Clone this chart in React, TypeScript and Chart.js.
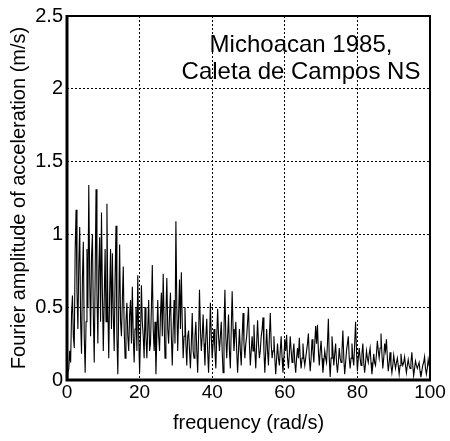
import React, { useEffect, useRef } from 'react';
import { Chart, registerables } from 'chart.js';

Chart.register(...registerables);

// Frequency spacing of the spectrum samples (rad/s)
const FREQ_STEP = 0.25;

// Fourier amplitude of acceleration (m/s), one value per 0.25 rad/s (rows of 5 rad/s)
const amplitude = [
  0.02, 0.05, 0.08, 0.2, 0.12, 0.45, 0.58, 0.3, 0.22, 0.9, 1.17, 0.6, 0.35, 0.8, 1.05, 0.4, 0.18, 0.7, 0.95, 0.3,
  0.05, 0.4, 0.9, 0.5, 1.34, 0.7, 0.3, 0.85, 1.0, 0.45, 0.12, 0.7, 1.31, 0.6, 0.25, 0.75, 0.98, 0.4, 1.15, 0.6,
  0.2, 0.55, 0.9, 0.4, 1.21, 0.5, 0.15, 0.6, 0.9, 0.35, 0.87, 0.45, 0.2, 0.7, 1.06, 0.3, 0.04, 0.5, 0.93, 0.4,
  0.3, 0.55, 0.78, 0.35, 0.15, 0.4, 0.53, 0.3, 0.2, 0.45, 0.55, 0.25, 0.64, 0.3, 0.12, 0.35, 0.5, 0.2, 0.72, 0.3,
  0.05, 0.3, 0.65, 0.4, 0.3, 0.15, 0.5, 0.3, 0.15, 0.35, 0.55, 0.2, 0.25, 0.5, 0.79, 0.35, 0.2, 0.4, 0.04, 0.3,
  0.55, 0.3, 0.2, 0.45, 0.6, 0.3, 0.73, 0.4, 0.15, 0.45, 0.7, 0.35, 0.25, 0.45, 0.6, 0.3, 0.1, 0.35, 0.55, 0.25,
  1.09, 0.5, 0.2, 0.45, 0.69, 0.35, 0.74, 0.4, 0.15, 0.3, 0.5, 0.25, 0.1, 0.3, 0.34, 0.2, 0.08, 0.25, 0.46, 0.2,
  0.15, 0.3, 0.4, 0.2, 0.05, 0.3, 0.62, 0.35, 0.2, 0.3, 0.45, 0.25, 0.1, 0.3, 0.42, 0.2, 0.05, 0.25, 0.53, 0.3,
  0.15, 0.25, 0.35, 0.2, 0.08, 0.3, 0.49, 0.3, 0.2, 0.3, 0.4, 0.2, 0.05, 0.35, 0.62, 0.3, 0.15, 0.3, 0.45, 0.2,
  0.08, 0.35, 0.61, 0.35, 0.2, 0.3, 0.4, 0.2, 0.05, 0.2, 0.35, 0.2, 0.1, 0.3, 0.46, 0.25, 0.15, 0.25, 0.3, 0.4,
  0.5, 0.25, 0.1, 0.2, 0.3, 0.2, 0.38, 0.2, 0.08, 0.25, 0.41, 0.25, 0.15, 0.2, 0.3, 0.35, 0.43, 0.2, 0.05, 0.2,
  0.35, 0.2, 0.1, 0.3, 0.46, 0.25, 0.15, 0.2, 0.3, 0.15, 0.04, 0.15, 0.25, 0.15, 0.1, 0.2, 0.3, 0.15, 0.05, 0.15,
  0.28, 0.2, 0.31, 0.15, 0.08, 0.18, 0.3, 0.2, 0.12, 0.18, 0.25, 0.12, 0.05, 0.15, 0.22, 0.15, 0.29, 0.15, 0.08, 0.15,
  0.25, 0.15, 0.1, 0.15, 0.2, 0.25, 0.32, 0.15, 0.06, 0.15, 0.28, 0.2, 0.12, 0.25, 0.37, 0.25, 0.38, 0.2, 0.1, 0.2,
  0.27, 0.15, 0.05, 0.12, 0.2, 0.15, 0.12, 0.25, 0.42, 0.15, 0.02, 0.15, 0.3, 0.2, 0.1, 0.18, 0.25, 0.12, 0.05, 0.12,
  0.22, 0.15, 0.12, 0.2, 0.34, 0.15, 0.04, 0.12, 0.2, 0.25, 0.3, 0.15, 0.08, 0.15, 0.25, 0.15, 0.1, 0.25, 0.4, 0.2,
  0.06, 0.15, 0.22, 0.15, 0.1, 0.18, 0.25, 0.12, 0.05, 0.12, 0.2, 0.15, 0.12, 0.18, 0.22, 0.12, 0.04, 0.1, 0.18, 0.12,
  0.1, 0.18, 0.27, 0.2, 0.15, 0.22, 0.32, 0.18, 0.08, 0.15, 0.25, 0.2, 0.28, 0.15, 0.06, 0.12, 0.19, 0.1, 0.05, 0.1,
  0.17, 0.12, 0.08, 0.12, 0.15, 0.1, 0.04, 0.1, 0.18, 0.12, 0.1, 0.12, 0.16, 0.1, 0.05, 0.1, 0.14, 0.1, 0.08, 0.12,
  0.19, 0.1, 0.03, 0.08, 0.13, 0.1, 0.08, 0.1, 0.12, 0.06, 0.02, 0.06, 0.1, 0.12, 0.16, 0.08, 0.04, 0.08, 0.14, 0.1,
  0.08,
];

const xTicks = [0, 20, 40, 60, 80, 100];
const yTicks = [0, 0.5, 1, 1.5, 2, 2.5];
const annotationLines = ['Michoacan 1985,', 'Caleta de Campos NS'];
const xLabel = 'frequency (rad/s)';
const yLabel = 'Fourier amplitude of acceleration (m/s)';

const FONT = '"Liberation Sans", Arial, Helvetica, sans-serif';

const framePlugin = {
  id: 'frameAndText',
  afterDraw(chart: any) {
    const { ctx, chartArea } = chart;
    const { left, right, top, bottom } = chartArea;
    ctx.save();
    ctx.strokeStyle = '#000';
    ctx.lineWidth = 2;
    ctx.beginPath();
    ctx.moveTo(left, top);
    ctx.lineTo(right, top);
    ctx.lineTo(right, bottom);
    ctx.stroke();
    ctx.lineWidth = 3;
    ctx.beginPath();
    ctx.moveTo(left, top - 1);
    ctx.lineTo(left, bottom);
    ctx.lineTo(right + 1, bottom);
    ctx.stroke();

    ctx.fillStyle = '#000';
    ctx.font = `24px ${FONT}`;
    ctx.textAlign = 'center';
    ctx.textBaseline = 'alphabetic';
    const cx = 301;
    ctx.fillText(annotationLines[0], cx, 52);
    ctx.fillText(annotationLines[1], cx, 79);
    ctx.restore();
  },
};

export default function App() {
  const canvasRef = useRef<HTMLCanvasElement | null>(null);

  useEffect(() => {
    const canvas = canvasRef.current;
    if (!canvas) return;
    const points = amplitude.map((v, i) => ({ x: i * FREQ_STEP, y: v }));
    const chart = new Chart(canvas, {
      type: 'line',
      data: {
        datasets: [
          {
            data: points,
            borderColor: '#000',
            borderWidth: 1.1,
            pointRadius: 0,
            tension: 0,
            fill: false,
          },
        ],
      },
      options: {
        responsive: false,
        animation: false,
        events: [],
        layout: { padding: { top: 16, right: 20, left: 0, bottom: 0 } },
        plugins: {
          legend: { display: false },
          tooltip: { enabled: false },
        },
        scales: {
          x: {
            type: 'linear',
            min: 0,
            max: 100,
            afterBuildTicks: (scale: any) => {
              scale.ticks = xTicks.map((v) => ({ value: v }));
            },
            afterFit: (scale: any) => {
              scale.height = 61;
            },
            ticks: {
              color: '#000',
              font: { family: FONT, size: 19 },
              padding: 1,
              maxRotation: 0,
              callback: (v: any) => String(v),
            },
            grid: {
              color: '#000',
              lineWidth: 1,
              drawTicks: false,
            },
            border: { display: false, dash: [2, 2] },
            title: {
              display: true,
              text: xLabel,
              color: '#000',
              font: { family: FONT, size: 20 },
              padding: { top: 0, bottom: 6 },
            },
          },
          y: {
            type: 'linear',
            min: 0,
            max: 2.5,
            afterBuildTicks: (scale: any) => {
              scale.ticks = yTicks.map((v) => ({ value: v }));
            },
            afterFit: (scale: any) => {
              scale.width = 67;
            },
            ticks: {
              color: '#000',
              font: { family: FONT, size: 20 },
              padding: 4,
              callback: (v: any) => String(v),
            },
            grid: {
              color: '#000',
              lineWidth: 1,
              drawTicks: false,
            },
            border: { display: false, dash: [2, 2] },
            title: {
              display: true,
              text: yLabel,
              color: '#000',
              font: { family: FONT, size: 20 },
              padding: { top: 7, bottom: 0 },
            },
          },
        },
      },
      plugins: [framePlugin],
    });
    return () => chart.destroy();
  }, []);

  return (
    <div style={{ position: 'absolute', left: 0, top: 0, width: 450, height: 441, background: '#fff' }}>
      <canvas ref={canvasRef} width={450} height={441} style={{ display: 'block', width: 450, height: 441 }} />
    </div>
  );
}
